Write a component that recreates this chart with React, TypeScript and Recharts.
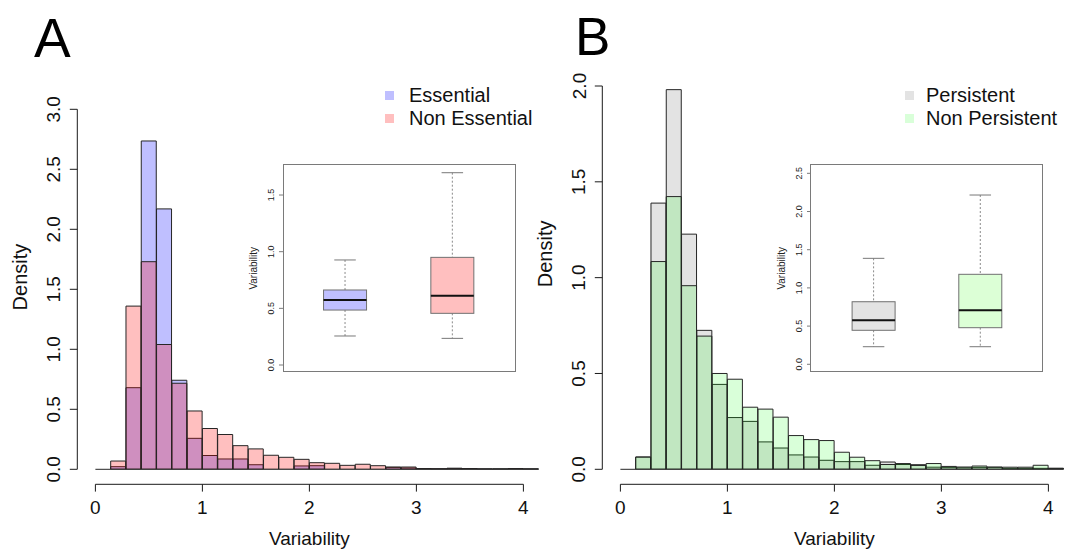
import React from 'react';
import { ComposedChart, Bar, XAxis, YAxis, ReferenceLine, Legend } from 'recharts';

// ---------- data ----------
const BIN_WIDTH = 1 / 7;
const BIN_COUNT = 29;
const binLabels = Array.from({ length: BIN_COUNT }, (_, i) =>
  `${(i * BIN_WIDTH).toFixed(2)}-${((i + 1) * BIN_WIDTH).toFixed(2)}`
);
const binMids = Array.from({ length: BIN_COUNT }, (_, i) => (i + 0.5) * BIN_WIDTH);

const essentialDensity = [0, 0.022, 0.68, 2.736, 2.17, 0.742, 0.258, 0.115, 0.086, 0.086, 0.038, 0, 0, 0.028, 0.03, 0, 0, 0, 0, 0.016, 0.011, 0.006, 0.004, 0.008, 0.006, 0.003, 0.003, 0.006, 0.003];
const nonEssentialDensity = [0, 0.069, 1.36, 1.73, 1.04, 0.717, 0.486, 0.34, 0.29, 0.197, 0.17, 0.117, 0.1, 0.083, 0.055, 0.05, 0.033, 0.042, 0.03, 0.019, 0.019, 0.006, 0.004, 0.008, 0.006, 0.003, 0.003, 0.006, 0.003];
const persistentDensity = [0, 0.064, 1.389, 1.981, 1.227, 0.725, 0.443, 0.27, 0.25, 0.143, 0.111, 0.075, 0.064, 0.047, 0.04, 0.04, 0.021, 0.038, 0.025, 0.024, 0.011, 0.01, 0.008, 0.01, 0.01, 0.005, 0.005, 0.005, 0.005];
const nonPersistentDensity = [0, 0.064, 1.084, 1.423, 0.958, 0.695, 0.5, 0.47, 0.324, 0.314, 0.272, 0.176, 0.155, 0.15, 0.089, 0.063, 0.045, 0.025, 0.03, 0.02, 0.03, 0.015, 0.012, 0.017, 0.012, 0.011, 0.011, 0.021, 0.005];

const xTicks = [0, 1, 2, 3, 4];
const yTicksA = [0, 0.5, 1, 1.5, 2, 2.5, 3];
const yTicksB = [0, 0.5, 1, 1.5, 2];

const boxGroupsA = ['Essential', 'Non Essential'];
const boxMinA = [0.256, 0.235];
const boxQ1A = [0.485, 0.456];
const boxMedianA = [0.574, 0.612];
const boxQ3A = [0.662, 0.95];
const boxMaxA = [0.927, 1.697];
const insetTicksA = [0, 0.5, 1, 1.5];

const boxGroupsB = ['Persistent', 'Non Persistent'];
const boxMinB = [0.23, 0.23];
const boxQ1B = [0.445, 0.479];
const boxMedianB = [0.576, 0.707];
const boxQ3B = [0.819, 1.178];
const boxMaxB = [1.387, 2.216];
const insetTicksB = [0, 0.5, 1, 1.5, 2, 2.5];

// ---------- layout / style ----------
const FONT = '"Liberation Sans", Arial, Helvetica, sans-serif';
const X_MAX = BIN_COUNT * BIN_WIDTH;
const PANEL_W = 545;
const PANEL_H = 550;
const PLOT_LEFT = 95.4;
const PX_PER_X = 107;
const PLOT_RIGHT = PLOT_LEFT + X_MAX * PX_PER_X;
const PLOT_BOTTOM = 469.3;
const Y_AXIS_W = 40;
const X_AXIS_H = 30;
const X_AXIS_GAP = 15;
const Y_AXIS_GAP = 18.1;
const EDGE = '#262626';
const AXIS = '#1a1a1a';
const INSET_SPACE = 45;
const INSET_Y_W = 30;

function MainXTick(props: any) {
  const { x, payload } = props;
  const base = PLOT_BOTTOM;
  return (
    <g>
      <line x1={x} x2={x} y1={base + X_AXIS_GAP} y2={base + X_AXIS_GAP + 7.3} stroke={AXIS} strokeWidth={1} />
      <text x={x} y={base + 44.2} textAnchor="middle" fontSize={19} fontFamily={FONT} fill="#111">
        {payload.value}
      </text>
    </g>
  );
}

function MainYTick(props: any) {
  const { x, y, payload } = props;
  const ax = x - Y_AXIS_GAP;
  const tx = ax - 16.8;
  return (
    <g>
      <line x1={ax - 7.5} x2={ax} y1={y} y2={y} stroke={AXIS} strokeWidth={1} />
      <text x={tx} y={y} transform={`rotate(-90 ${tx} ${y})`} textAnchor="middle" fontSize={19} fontFamily={FONT} fill="#111">
        {Number(payload.value).toFixed(1)}
      </text>
    </g>
  );
}

function XTitle(props: any) {
  const vb = props.viewBox || {};
  const x = vb.x + vb.width * props.frac;
  const y = PLOT_BOTTOM + 75.7;
  return (
    <text x={x} y={y} textAnchor="middle" fontSize={19} fontFamily={FONT} fill="#111">
      {props.text}
    </text>
  );
}

function YTitle(props: any) {
  const vb = props.viewBox || {};
  const x = vb.x + vb.width - 68.4;
  const y = vb.y + vb.height * props.frac;
  return (
    <text x={x} y={y} transform={`rotate(-90 ${x} ${y})`} textAnchor="middle" fontSize={20} fontFamily={FONT} fill="#111">
      {props.text}
    </text>
  );
}

function InsetYTick(props: any) {
  const { x, y, payload } = props;
  const tx = x - 8.8;
  return (
    <g>
      <line x1={x - 4} x2={x} y1={y} y2={y} stroke="#7a7a7a" strokeWidth={1} />
      <text x={tx} y={y} transform={`rotate(-90 ${tx} ${y})`} textAnchor="middle" fontSize={9} fontFamily={FONT} fill="#222">
        {Number(payload.value).toFixed(1)}
      </text>
    </g>
  );
}

function InsetYTitle(props: any) {
  const vb = props.viewBox || {};
  const x = vb.x + vb.width - 26.4;
  const y = vb.y + vb.height / 2;
  return (
    <text x={x} y={y} transform={`rotate(-90 ${x} ${y})`} textAnchor="middle" fontSize={10} fontFamily={FONT} fill="#222">
      {props.text}
    </text>
  );
}

function BoxShape(props: any) {
  const { x, y, width, height, payload, index, colors } = props;
  if (!payload) return null;
  const top = Math.min(y, y + height);
  const bottom = Math.max(y, y + height);
  const span = payload.max - payload.min;
  const pix = (v: number) => top + ((bottom - top) * (payload.max - v)) / span;
  const cx = x + width / 2;
  const cap = width / 4;
  const pMax = pix(payload.max);
  const pQ3 = pix(payload.q3);
  const pMed = pix(payload.median);
  const pQ1 = pix(payload.q1);
  const pMin = pix(payload.min);
  return (
    <g>
      <line x1={cx} x2={cx} y1={pMax} y2={pQ3} stroke="#8a8a8a" strokeDasharray="2 2" strokeWidth={1} />
      <line x1={cx} x2={cx} y1={pQ1} y2={pMin} stroke="#8a8a8a" strokeDasharray="2 2" strokeWidth={1} />
      <line x1={cx - cap} x2={cx + cap} y1={pMax} y2={pMax} stroke="#777" strokeWidth={1} />
      <line x1={cx - cap} x2={cx + cap} y1={pMin} y2={pMin} stroke="#777" strokeWidth={1} />
      <rect x={x} y={pQ3} width={width} height={pQ1 - pQ3} fill={colors[index]} stroke="#707070" strokeWidth={1} />
      <line x1={x} x2={x + width} y1={pMed} y2={pMed} stroke="#111" strokeWidth={2} />
    </g>
  );
}

function LegendBox(props: any) {
  const { entries } = props;
  return (
    <div style={{ fontFamily: FONT }}>
      {entries.map((e: any) => (
        <div key={e.name} style={{ display: 'flex', alignItems: 'center', height: 23 }}>
          <div style={{ width: 9, height: 9, background: e.color, marginRight: e.gap }} />
          <span style={{ fontSize: 20, lineHeight: '23px', color: '#111', whiteSpace: 'nowrap' }}>{e.name}</span>
        </div>
      ))}
    </div>
  );
}

function BoxInset(p: any) {
  const rows = p.groups.map((group: string, i: number) => ({
    group,
    min: p.min[i],
    q1: p.q1[i],
    median: p.median[i],
    q3: p.q3[i],
    max: p.max[i],
  }));
  const w = p.frameW + INSET_SPACE;
  return (
    <div style={{ position: 'absolute', left: p.frameLeft - INSET_SPACE, top: p.frameTop, width: w, height: p.frameH }}>
      <ComposedChart width={w} height={p.frameH} data={rows} margin={{ top: 0, right: 0, bottom: 0, left: INSET_SPACE - INSET_Y_W }}>
        <XAxis dataKey="group" type="category" hide padding={{ left: p.pad, right: p.pad }} />
        <YAxis
          type="number"
          domain={p.domain}
          ticks={p.ticks}
          allowDataOverflow
          width={INSET_Y_W}
          axisLine={false}
          tickLine={false}
          tickSize={0}
          tickMargin={0}
          interval={0}
          tick={<InsetYTick />}
          label={<InsetYTitle text="Variability" />}
        />
        <Bar
          dataKey={(d: any) => [d.min, d.max]}
          barSize={p.boxW}
          shape={<BoxShape colors={p.colors} />}
          isAnimationActive={false}
        />
      </ComposedChart>
      <div
        style={{
          position: 'absolute',
          left: INSET_SPACE - 0.6,
          top: -0.6,
          width: p.frameW + 1.2,
          height: p.frameH + 1.2,
          border: '1.2px solid #7a7a7a',
          boxSizing: 'border-box',
          pointerEvents: 'none',
        }}
      />
    </div>
  );
}

function HistPanel(p: any) {
  const rows = binLabels.map((bin, i) => ({ bin, mid: binMids[i], first: p.first[i], second: p.second[i] }));
  const margin = {
    top: p.plotTop,
    right: PANEL_W - PLOT_RIGHT,
    bottom: PANEL_H - PLOT_BOTTOM - X_AXIS_H,
    left: PLOT_LEFT - Y_AXIS_W,
  };
  const pxPerY = (PLOT_BOTTOM - p.plotTop) / p.yMax;
  const axisY = -X_AXIS_GAP / pxPerY;
  const axisX = -Y_AXIS_GAP / PX_PER_X;
  return (
    <div style={{ position: 'absolute', left: p.left, top: 0, width: PANEL_W, height: PANEL_H }}>
      <ComposedChart width={PANEL_W} height={PANEL_H} data={rows} margin={margin} barCategoryGap={0} barGap={0}>
        <XAxis xAxisId="first" dataKey="bin" type="category" hide />
        <XAxis xAxisId="second" dataKey="bin" type="category" hide />
        <XAxis
          xAxisId="num"
          dataKey="mid"
          type="number"
          domain={[0, X_MAX]}
          ticks={xTicks}
          allowDataOverflow
          axisLine={false}
          tickLine={false}
          tickSize={0}
          tickMargin={0}
          height={X_AXIS_H}
          interval={0}
          tick={<MainXTick />}
          label={<XTitle text="Variability" frac={2 / X_MAX} />}
        />
        <YAxis
          type="number"
          domain={[0, p.yMax]}
          ticks={p.yTicks}
          allowDataOverflow
          axisLine={false}
          tickLine={false}
          tickSize={0}
          tickMargin={0}
          width={Y_AXIS_W}
          interval={0}
          tick={<MainYTick />}
          label={<YTitle text="Density" frac={p.titleFrac} />}
        />
        <Bar xAxisId="first" dataKey="first" name={p.names[0]} fill={p.fills[0]} fillOpacity={p.opacities[0]} stroke={EDGE} strokeWidth={1} isAnimationActive={false} />
        <Bar xAxisId="second" dataKey="second" name={p.names[1]} fill={p.fills[1]} fillOpacity={p.opacities[1]} stroke={EDGE} strokeWidth={1} isAnimationActive={false} />
        <ReferenceLine xAxisId="num" segment={[{ x: 0, y: 0 }, { x: X_MAX, y: 0 }]} stroke={EDGE} strokeWidth={1} ifOverflow="visible" />
        <ReferenceLine xAxisId="num" segment={[{ x: 0, y: axisY }, { x: 4, y: axisY }]} stroke={AXIS} strokeWidth={1} ifOverflow="visible" />
        <ReferenceLine xAxisId="num" segment={[{ x: axisX, y: 0 }, { x: axisX, y: p.yMax }]} stroke={AXIS} strokeWidth={1} ifOverflow="visible" />
        <Legend
          layout="vertical"
          align="center"
          verticalAlign="middle"
          wrapperStyle={{ left: p.legendLeft, top: p.legendTop, width: 'auto', height: 'auto' }}
          content={<LegendBox entries={p.legendEntries} />}
        />
      </ComposedChart>
      <BoxInset {...p.inset} />
    </div>
  );
}

export default function App() {
  return (
    <div style={{ position: 'absolute', left: 0, top: 0, width: 1072, height: 550, background: '#fff', fontFamily: FONT }}>
      <HistPanel
        left={0}
        first={essentialDensity}
        second={nonEssentialDensity}
        names={['Essential', 'Non Essential']}
        fills={['#0000ff', '#ff0000']}
        opacities={[0.25, 0.25]}
        yMax={3}
        yTicks={yTicksA}
        plotTop={109.3}
        titleFrac={0.466}
        legendLeft={385}
        legendTop={83.5}
        legendEntries={[
          { name: 'Essential', color: '#bfbfff', gap: 15 },
          { name: 'Non Essential', color: '#ffbfbf', gap: 15 },
        ]}
        inset={{
          groups: boxGroupsA,
          min: boxMinA,
          q1: boxQ1A,
          median: boxMedianA,
          q3: boxQ3A,
          max: boxMaxA,
          ticks: insetTicksA,
          domain: [-0.059, 1.765],
          frameLeft: 283.3,
          frameTop: 165,
          frameW: 231.7,
          frameH: 206.7,
          pad: 8.55,
          boxW: 43,
          colors: ['#bfbfff', '#ffbfbf'],
        }}
      />
      <HistPanel
        left={525}
        first={persistentDensity}
        second={nonPersistentDensity}
        names={['Persistent', 'Non Persistent']}
        fills={['#e3e3e3', '#00ff00']}
        opacities={[1, 0.15]}
        yMax={2}
        yTicks={yTicksB}
        plotTop={86}
        titleFrac={0.438}
        legendLeft={380}
        legendTop={83.5}
        legendEntries={[
          { name: 'Persistent', color: '#e3e3e3', gap: 12 },
          { name: 'Non Persistent', color: '#d9ffd9', gap: 12 },
        ]}
        inset={{
          groups: boxGroupsB,
          min: boxMinB,
          q1: boxQ1B,
          median: boxMedianB,
          q3: boxQ3B,
          max: boxMaxB,
          ticks: insetTicksB,
          domain: [-0.0969, 2.609],
          frameLeft: 285.7,
          frameTop: 165,
          frameW: 231.6,
          frameH: 206.7,
          pad: 9.1,
          boxW: 43,
          colors: ['#e3e3e3', '#dcffd6'],
        }}
      />
      <svg width={1072} height={550} style={{ position: 'absolute', left: 0, top: 0, pointerEvents: 'none' }}>
        <text x={34} y={56.5} fontSize={55} fontFamily={FONT} fill="#000">A</text>
        <text x={575} y={55} fontSize={53} fontFamily={FONT} fill="#000">B</text>
      </svg>
    </div>
  );
}
